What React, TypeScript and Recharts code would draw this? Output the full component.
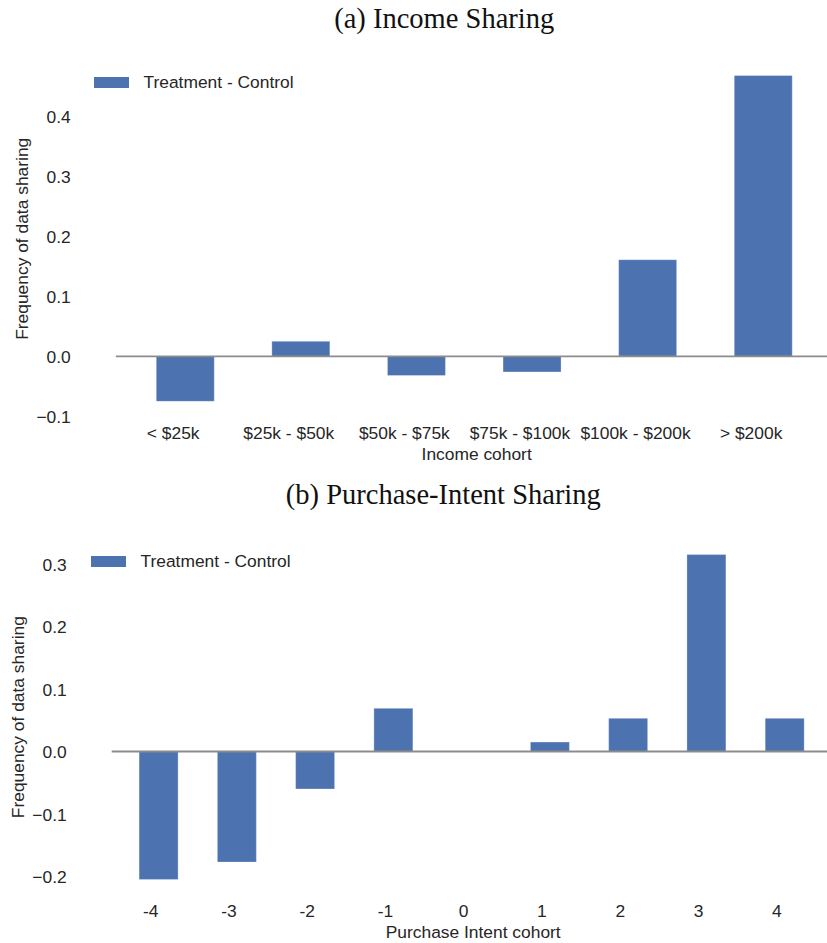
import React from 'react';
import { BarChart, Bar, XAxis, YAxis, ReferenceLine, Legend } from 'recharts';

// Panel (a): income cohorts
const incomeCohorts = ['< $25k', '$25k - $50k', '$50k - $75k', '$75k - $100k', '$100k - $200k', '> $200k'];
const incomeDiff = [-0.075, 0.025, -0.032, -0.026, 0.161, 0.468];
const incomeTicks = [-0.1, 0, 0.1, 0.2, 0.3, 0.4];

// Panel (b): purchase-intent cohorts
const intentCohorts = ['-4', '-3', '-2', '-1', '0', '1', '2', '3', '4'];
const intentDiff = [-0.205, -0.177, -0.06, 0.069, 0, 0.015, 0.053, 0.315, 0.053];
const intentTicks = [-0.2, -0.1, 0, 0.1, 0.2, 0.3];

const seriesName = 'Treatment - Control';
const yLabel = 'Frequency of data sharing';

const BAR = '#4C72B0';
const INK = '#262626';
const ZERO = '#8c8c8c';
const SANS = '"Liberation Sans", Arial, sans-serif';
const SERIF = '"Liberation Serif", "Times New Roman", serif';
const FS = 17.4;

const incomeRows = incomeCohorts.map((cohort, i) => ({ cohort, diff: incomeDiff[i] }));
const intentRows = intentCohorts.map((cohort, i) => ({ cohort, diff: intentDiff[i] }));

const fmtTick = (v: number) => {
  const s = Math.abs(v).toFixed(1);
  return v < -1e-9 ? '\u2212' + s : s;
};

const YTick = (props: any) => {
  const { x, y, payload } = props;
  return (
    <text x={x - 45} y={y} dy={6.6} textAnchor="end" fontSize={FS} fontFamily={SANS} fill={INK}>
      {fmtTick(payload.value)}
    </text>
  );
};

// Category labels sit slightly left of their bar centres
const makeXTick = (dx: number) => (props: any) => {
  const { x, y, payload } = props;
  return (
    <text x={x + dx} y={y + 20.5} textAnchor="middle" fontSize={FS} fontFamily={SANS} fill={INK}>
      {payload.value}
    </text>
  );
};

const makeXLabel = (dx: number) => (props: any) => {
  const vb = props.viewBox || {};
  return (
    <text x={vb.x + vb.width / 2 + dx} y={vb.y + 42} textAnchor="middle" fontSize={FS} fontFamily={SANS} fill={INK}>
      {props.value}
    </text>
  );
};

const YLabel = (props: any) => {
  const vb = props.viewBox || {};
  const cx = vb.x + vb.width - 87.5;
  const cy = vb.y + vb.height / 2;
  return (
    <text
      x={cx}
      y={cy}
      textAnchor="middle"
      transform={`rotate(-90 ${cx} ${cy})`}
      fontSize={FS}
      fontFamily={SANS}
      fill={INK}
    >
      {props.value}
    </text>
  );
};

const LegendBox = () => (
  <div style={{ display: 'flex', alignItems: 'center', height: 20, whiteSpace: 'nowrap' }}>
    <span style={{ display: 'inline-block', width: 35, height: 11, background: BAR, marginRight: 14.5 }} />
    <span style={{ fontFamily: SANS, fontSize: FS, color: INK, lineHeight: '20px' }}>{seriesName}</span>
  </div>
);

type PanelProps = {
  rows: { cohort: string; diff: number }[];
  ticks: number[];
  domain: [number, number];
  xLabel: string;
  height: number;
  top: number;
  right: number;
  yAxisWidth: number;
  xAxisHeight: number;
  pad: number;
  tickDx: number;
  labelDx: number;
  legendLeft: number;
  legendTop: number;
};

function Panel(p: PanelProps) {
  return (
    <BarChart
      width={850}
      height={p.height}
      data={p.rows}
      margin={{ top: p.top, right: p.right, bottom: 0, left: 0 }}
      barCategoryGap="25%"
    >
      <XAxis
        dataKey="cohort"
        type="category"
        axisLine={false}
        tickLine={false}
        tickSize={0}
        tickMargin={0}
        height={p.xAxisHeight}
        padding={{ left: p.pad, right: p.pad }}
        interval={0}
        tick={makeXTick(p.tickDx)}
        label={{ value: p.xLabel, content: makeXLabel(p.labelDx) }}
      />
      <YAxis
        type="number"
        domain={p.domain}
        ticks={p.ticks}
        allowDataOverflow
        axisLine={false}
        tickLine={false}
        tickSize={0}
        tickMargin={0}
        width={p.yAxisWidth}
        tick={YTick}
        label={{ value: yLabel, content: YLabel }}
      />
      <Legend
        layout="horizontal"
        verticalAlign="middle"
        align="center"
        wrapperStyle={{ left: p.legendLeft, top: p.legendTop, width: 'auto', height: 'auto' }}
        content={LegendBox}
      />
      <Bar
        dataKey="diff"
        name={seriesName}
        fill={BAR}
        stroke="#ffffff"
        strokeWidth={0.6}
        strokeOpacity={0.5}
        isAnimationActive={false}
      />
      <ReferenceLine y={0} stroke={ZERO} strokeWidth={1.8} />
    </BarChart>
  );
}

export default function App() {
  return (
    <div
      style={{
        position: 'absolute',
        top: 0,
        left: 0,
        width: 827,
        height: 943,
        overflow: 'hidden',
        background: '#ffffff',
      }}
    >
      <div style={{ position: 'absolute', top: 0, left: 0 }}>
        <Panel
          rows={incomeRows}
          ticks={incomeTicks}
          domain={[-0.1033, 0.495]}
          xLabel="Income cohort"
          height={475}
          top={59.3}
          right={17.5}
          yAxisWidth={115.8}
          xAxisHeight={56.7}
          pad={11.56}
          tickDx={-12}
          labelDx={2.5}
          legendLeft={94}
          legendTop={72.2}
        />
      </div>
      <div style={{ position: 'absolute', top: 470, left: 0 }}>
        <Panel
          rows={intentRows}
          ticks={intentTicks}
          domain={[-0.2317, 0.3416]}
          xLabel="Purchase Intent cohort"
          height={473}
          top={68}
          right={18.3}
          yAxisWidth={111.7}
          xAxisHeight={46.7}
          pad={7.83}
          tickDx={-8}
          labelDx={1.5}
          legendLeft={91}
          legendTop={81.2}
        />
      </div>
      <svg
        width={827}
        height={943}
        style={{ position: 'absolute', top: 0, left: 0, pointerEvents: 'none' }}
      >
        <text x={444.2} y={27.5} textAnchor="middle" fontSize={28.5} fontFamily={SERIF} fill="#111111">
          (a) Income Sharing
        </text>
        <text x={443.3} y={503.5} textAnchor="middle" fontSize={28.5} fontFamily={SERIF} fill="#111111">
          (b) Purchase-Intent Sharing
        </text>
      </svg>
    </div>
  );
}
